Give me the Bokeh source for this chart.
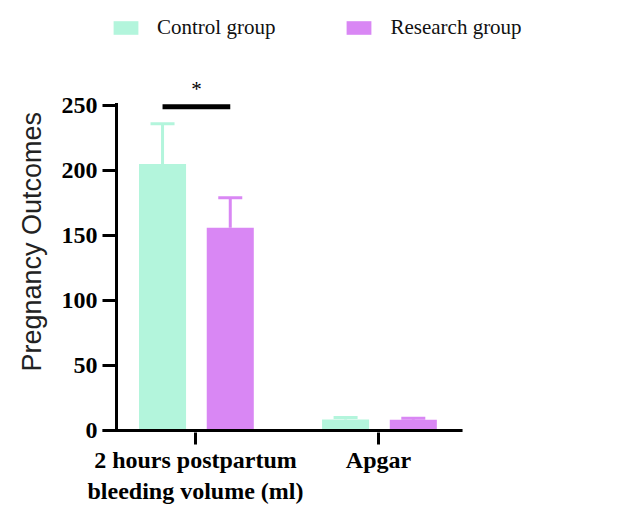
import numpy as np
from bokeh.plotting import figure
from bokeh.models import (ColumnDataSource, FixedTicker, Range1d, Whisker, TeeHead,
                          Legend, LegendItem, Title)
from bokeh.core.properties import value
from bokeh.embed import file_html
from bokeh.resources import INLINE

# ---- data ----
categories = ["2 hours postpartum\nbleeding volume (ml)", "Apgar"]
control_means = [205, 8.5]
control_sd = [31, 1.5]
research_means = [156, 8.3]
research_sd = [23, 1.2]
series_names = ["Control group", "Research group"]
y_ticks = [0, 50, 100, 150, 200, 250]
y_label = "Pregnancy Outcomes"
sig_level = [249]
sig_mark = ["*"]

control_color = "#b3f5dc"
research_color = "#d987f4"

xs = np.arange(len(categories))
off_c, off_r, bw = -0.18, 0.19, 0.257
x_start, x_axis_end, x_end = -0.508, 1.459, 2.311

p = figure(width=618, height=506, output_backend="svg", toolbar_location=None,
           x_range=Range1d(x_start, x_end), y_range=Range1d(-1.52, 330.8),
           min_border_left=102, min_border_right=0, min_border_top=0,
           min_border_bottom=70)
p.outline_line_color = None
p.grid.grid_line_color = None
p.background_fill_color = "white"

src_c = ColumnDataSource(dict(x=xs + off_c, top=control_means,
                              upper=np.array(control_means) + np.array(control_sd),
                              base=control_means))
src_r = ColumnDataSource(dict(x=xs + off_r, top=research_means,
                              upper=np.array(research_means) + np.array(research_sd),
                              base=research_means))

rc = p.vbar(x="x", top="top", width=bw, source=src_c, fill_color=control_color,
            line_color=None)
rr = p.vbar(x="x", top="top", width=bw, source=src_r, fill_color=research_color,
            line_color=None)

for src, col in ((src_c, control_color), (src_r, research_color)):
    w = Whisker(base="x", upper="upper", lower="base", source=src,
                line_color=col, line_width=3,
                upper_head=TeeHead(size=24, line_color=col, line_width=3),
                lower_head=None)
    p.add_layout(w)

# significance bar
sig_src = ColumnDataSource(dict(x0=[xs[0] + off_c], x1=[xs[0] + off_r], y=sig_level,
                                xm=[xs[0] + (off_c + off_r) / 2], t=sig_mark))
p.segment(x0="x0", y0="y", x1="x1", y1="y", source=sig_src, line_color="black",
          line_width=5)
p.text(x="xm", y="y", text="t", source=sig_src, text_font=value("Liberation Serif"),
       text_font_size="21px", text_align="center", text_baseline="bottom",
       y_offset=-6, text_color="black")

# axis lines drawn inside frame
yaxis_x = x_start + 14 / 183.0
p.segment(x0=[yaxis_x], y0=[0], x1=[yaxis_x], y1=[y_ticks[-1] + 2],
          line_color="black", line_width=3)
p.segment(x0=[x_start], y0=[0], x1=[x_axis_end], y1=[0],
          line_color="black", line_width=3)

# axes
p.xaxis.ticker = FixedTicker(ticks=list(xs))
p.xaxis.major_label_overrides = {int(i): c for i, c in zip(xs, categories)}
p.xaxis.major_label_text_font = "Liberation Serif"
p.xaxis.major_label_text_font_style = "bold"
p.xaxis.major_label_text_font_size = "24px"
p.xaxis.major_label_text_color = "black"
p.xaxis.axis_line_color = None
p.xaxis.major_tick_line_width = 3
p.xaxis.major_tick_out = 12
p.xaxis.major_tick_in = 0
p.xaxis.minor_tick_line_color = None
p.xaxis.major_label_standoff = 2

p.yaxis.ticker = FixedTicker(ticks=y_ticks)
p.yaxis.axis_line_color = None
p.yaxis.major_tick_in = 14
p.yaxis.major_tick_out = 0
p.yaxis.major_tick_line_width = 3
p.yaxis.major_tick_line_color = "black"
p.yaxis.minor_tick_line_color = None
p.yaxis.major_label_text_font = "Liberation Serif"
p.yaxis.major_label_text_font_style = "bold"
p.yaxis.major_label_text_font_size = "24px"
p.yaxis.major_label_text_color = "black"
p.yaxis.major_label_standoff = 5

ytitle = Title(text=y_label, align="left", offset=61, vertical_align="top",
               text_font="Liberation Sans", text_font_style="normal",
               text_font_size="27px", text_color="#222222", standoff=20)
p.add_layout(ytitle, "left")

legend = Legend(items=[LegendItem(label=series_names[0], renderers=[rc]),
                       LegendItem(label=series_names[1], renderers=[rr])],
                orientation="horizontal", location=(0, 384),
                glyph_width=31, glyph_height=17, label_standoff=16, spacing=68,
                label_text_font="Liberation Serif", label_text_font_size="21px",
                label_text_color="#111111",
                background_fill_alpha=0, border_line_alpha=0,
                padding=8, margin=0)
p.add_layout(legend)

open("out.html", "w").write(file_html(p, INLINE))
